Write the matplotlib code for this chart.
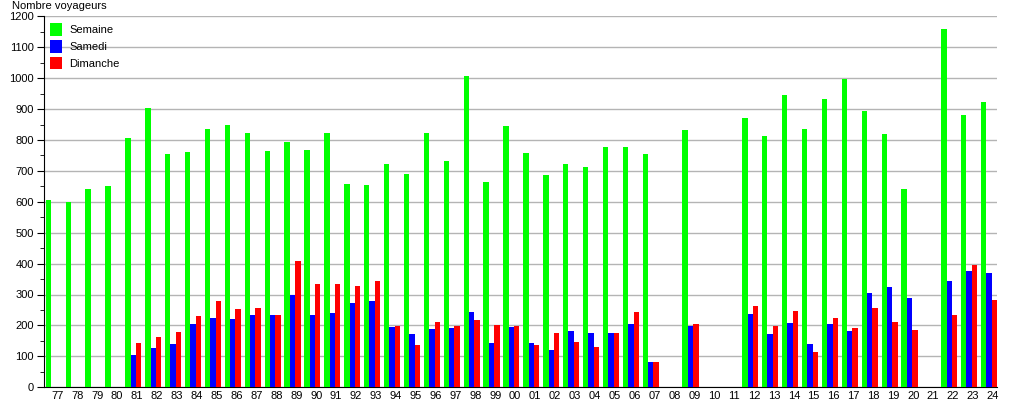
import numpy as np
import matplotlib
matplotlib.use("Agg")
from matplotlib import pyplot as plt
from matplotlib.ticker import MultipleLocator

plt.rcParams['font.family'] = ['Liberation Sans', 'DejaVu Sans']

years = ["77", "78", "79", "80", "81", "82", "83", "84", "85", "86", "87", "88",
         "89", "90", "91", "92", "93", "94", "95", "96", "97", "98", "99", "00",
         "01", "02", "03", "04", "05", "06", "07", "08", "09", "10", "11", "12",
         "13", "14", "15", "16", "17", "18", "19", "20", "21", "22", "23", "24"]

# 0 = no value for that year
semaine = [605, 600, 640, 652, 808, 905, 756, 762, 834, 847, 824, 766,
           792, 769, 824, 659, 654, 722, 690, 823, 732, 1008, 664, 845,
           758, 686, 722, 712, 777, 777, 755, 0, 831, 0, 0, 870,
           812, 945, 835, 932, 997, 893, 818, 643, 0, 1159, 880, 922]
samedi = [0, 0, 0, 0, 105, 127, 140, 205, 225, 221, 234, 234,
          299, 234, 241, 271, 278, 195, 171, 187, 191, 242, 142, 195,
          142, 119, 181, 177, 174, 206, 80, 0, 199, 0, 0, 238,
          173, 209, 141, 205, 183, 306, 325, 290, 0, 345, 377, 371]
dimanche = [0, 0, 0, 0, 144, 163, 179, 231, 280, 254, 257, 234,
            409, 335, 335, 326, 344, 198, 136, 210, 198, 216, 200, 198,
            138, 174, 145, 129, 177, 242, 80, 0, 205, 0, 0, 264,
            199, 248, 115, 225, 192, 257, 212, 186, 0, 235, 397, 283]

x = np.arange(len(years))
w = 0.27

fig = plt.figure(figsize=(10.15, 4.0), dpi=100)
ax = fig.add_axes([0.0429, 0.032, 0.9394, 0.927])

ax.bar(x - w, semaine, width=w, color="#00ff00", label="Semaine", zorder=3)
ax.bar(x, samedi, width=w, color="#0000ff", label="Samedi", zorder=3)
ax.bar(x + w, dimanche, width=w, color="#ff0000", label="Dimanche", zorder=3)

ax.set_xlim(-0.51, 47.4)
ax.set_ylim(0, 1200)
ax.set_xticks(x + 0.19)
ax.set_xticklabels(years, fontsize=8)
ax.tick_params(axis="x", length=0, pad=3)
ax.yaxis.set_major_locator(MultipleLocator(100))
ax.yaxis.set_minor_locator(MultipleLocator(50))
ax.tick_params(axis="y", which="major", length=5, labelsize=8, pad=2)
ax.tick_params(axis="y", which="minor", length=3)
ax.grid(axis="y", color="#b4b4b4", linewidth=1, zorder=0)
ax.spines["top"].set_visible(False)
ax.spines["right"].set_visible(False)

fig.text(0.012, 0.985, "Nombre voyageurs", fontsize=8, va="center", ha="left")

ax.legend(loc="upper left", bbox_to_anchor=(0.0, 1.0), frameon=False,
          fontsize=8, handlelength=1.1, handleheight=1.4, handletextpad=0.6,
          labelspacing=0.35, borderaxespad=0.2)

fig.savefig("out.png", dpi=100)
